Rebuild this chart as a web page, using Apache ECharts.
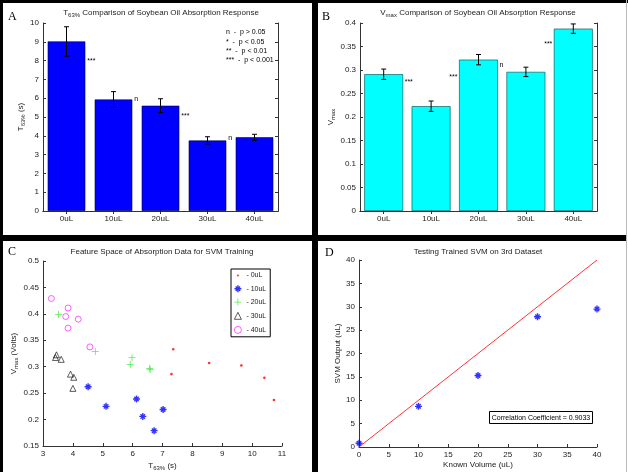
<!DOCTYPE html>
<html><head><meta charset="utf-8">
<script src="https://cdn.jsdelivr.net/npm/echarts@6/dist/echarts.min.js"></script>
<style>html,body{margin:0;padding:0;background:#fff}#c{width:628px;height:472px}</style>
</head><body><div id="c"></div>
<script>
// ---------- DATA ----------
const categories = ['0uL', '10uL', '20uL', '30uL', '40uL'];
const t63Mean = [9.02, 5.93, 5.6, 3.75, 3.92];
const t63Err  = [0.78, 0.42, 0.37, 0.2, 0.16];
const vmaxMean = [0.291, 0.223, 0.322, 0.296, 0.388];
const vmaxErr  = [0.011, 0.011, 0.011, 0.01, 0.01];
// significance annotations: category index, value, text, side (1 right of bar, -1 left)
const sigACat = [0, 1, 2, 3];
const sigAVal = [8.0, 5.95, 5.05, 3.9];
const sigAText = ['***', 'n', '***', 'n'];
const sigASide = [1, 1, 1, 1];
const sigBCat = [0, 2, 2, 4];
const sigBVal = [0.274, 0.285, 0.31, 0.355];
const sigBText = ['***', '***', 'n', '***'];
const sigBSide = [1, -1, 1, -1];
const pLegend = ['n  -  p > 0.05', '*  -  p < 0.05', '**  -  p < 0.01', '***  -  p < 0.001'];
// panel C feature space
const c0x = [7.36, 7.30, 8.56, 9.64, 10.41, 10.73];
const c0y = [0.333, 0.286, 0.307, 0.3025, 0.279, 0.237];
const c10x = [4.51, 5.11, 6.13, 6.34, 6.72, 7.02];
const c10y = [0.262, 0.225, 0.239, 0.206, 0.179, 0.219];
const c20x = [3.52, 4.75, 5.98, 5.92, 6.57, 6.59];
const c20y = [0.399, 0.329, 0.317, 0.304, 0.297, 0.2945];
const c30x = [3.45, 3.42, 3.61, 3.92, 4.03, 4.0];
const c30y = [0.3225, 0.3175, 0.314, 0.286, 0.28, 0.259];
const c40x = [3.28, 3.84, 3.76, 4.18, 3.84, 4.57];
const c40y = [0.429, 0.411, 0.395, 0.390, 0.373, 0.3375];
// panel D
const knownVol = [0, 10, 20, 30, 40];
const svmOut = [0.8, 8.7, 15.3, 27.85, 29.5];
const fitX = [0, 40];
const fitY = [0, 40];
const corrText = 'Correlation Coefficient = 0.9033';

// ---------- STYLE ----------
const FONT = "'Liberation Sans', Arial, sans-serif";
const TXT = '#222';
const AX = '#333';
const ASTER = 'path://M0,4H10V6H0Z M4,0H6V10H4Z M1.1,2.5L2.5,1.1L8.9,7.5L7.5,8.9Z M7.5,1.1L8.9,2.5L2.5,8.9L1.1,7.5Z';
const PLUS = 'path://M0,4.45H10V5.55H0Z M4.45,0H5.55V10H4.45Z';
const DOT = 'path://M0,0L0.01,0L0.01,0.01Z M10,10L9.99,10L9.99,9.99Z M5,3.5L6.1,3.9L6.5,5L6.1,6.1L5,6.5L3.9,6.1L3.5,5L3.9,3.9Z';

const zip = (a, b) => a.map((v, i) => [v, b[i]]);
const rich = {
  n: {fontSize: 8, fontFamily: FONT, color: TXT, fontWeight: 'normal'},
  s: {fontSize: 6, fontFamily: FONT, color: TXT, fontWeight: 'normal', padding: [5, 0, 0, 0]}
};
const tickLbl = {fontSize: 8, fontFamily: FONT, color: TXT};

function catAxis(grid, pos, labels) {
  return {type: 'category', gridIndex: grid, position: pos, data: categories,
    axisLine: {show: true, lineStyle: {color: AX, width: 1}},
    axisTick: {show: true, inside: true, alignWithLabel: true, length: 3, lineStyle: {color: AX}},
    axisLabel: Object.assign({show: labels, margin: 4}, tickLbl),
    splitLine: {show: false}};
}
function valAxis(grid, pos, min, max, interval, labels, extra) {
  return Object.assign({type: 'value', gridIndex: grid, position: pos, min, max, interval,
    axisLine: {show: true, lineStyle: {color: AX, width: 1}},
    axisTick: {show: true, inside: true, length: 3, lineStyle: {color: AX}},
    axisLabel: Object.assign({show: labels, margin: 4}, tickLbl),
    splitLine: {show: false}}, extra || {});
}
function errItem(params, api) {
  const x = api.value(0), m = api.value(1), e = api.value(2);
  const hi = api.coord([x, m + e]), lo = api.coord([x, m - e]);
  const cap = 2.5, st = {stroke: '#000', lineWidth: 1};
  return {type: 'group', children: [
    {type: 'line', shape: {x1: hi[0], y1: hi[1], x2: lo[0], y2: lo[1]}, style: st},
    {type: 'line', shape: {x1: hi[0] - cap, y1: hi[1], x2: hi[0] + cap, y2: hi[1]}, style: st},
    {type: 'line', shape: {x1: lo[0] - cap, y1: lo[1], x2: lo[0] + cap, y2: lo[1]}, style: st}
  ]};
}
function sigItem(texts, sides) {
  return function (params, api) {
    const i = params.dataIndex;
    const p = api.coord([api.value(0), api.value(1)]);
    const half = api.size([1, 0])[0] * 0.4;
    const s = sides[i];
    return {type: 'text', x: p[0] + s * (half + 2), y: p[1],
      style: {text: texts[i], fill: '#000', font: '7px ' + FONT,
        textAlign: s > 0 ? 'left' : 'right', textVerticalAlign: 'middle'}};
  };
}

const grids = [
  {left: 43, top: 23, width: 235, height: 188},
  {left: 360, top: 23, width: 237, height: 188},
  {left: 43, top: 261, width: 239, height: 186},
  {left: 359, top: 260, width: 238, height: 187}
];
const titleStyle = {rich, fontWeight: 'normal'};
const thinBorder = {borderWidth: 0.8};

const option = {
  animation: false,
  backgroundColor: '#fff',
  grid: grids.map(g => Object.assign({show: false, containLabel: false}, g)),
  title: [
    {text: '{n|T}{s|63%}{n| Comparison of Soybean Oil Absorption Response}', left: 161, top: 7, textAlign: 'center', padding: 0, textStyle: titleStyle},
    {text: '{n|V}{s|max}{n| Comparison of Soybean Oil Absorption Response}', left: 478, top: 7, textAlign: 'center', padding: 0, textStyle: titleStyle},
    {text: '{n|Feature Space of Absorption Data for SVM Training}', left: 162, top: 248, textAlign: 'center', padding: 0, textStyle: titleStyle},
    {text: '{n|Testing Trained SVM on 3rd Dataset}', left: 478, top: 248, textAlign: 'center', padding: 0, textStyle: titleStyle}
  ],
  legend: {
    left: 231, top: 269, orient: 'vertical',
    data: categories.map((c, i) => i >= 3 ? {name: c, itemStyle: thinBorder} : {name: c}),
    itemWidth: 7, itemHeight: 7, itemGap: 6.3, padding: [3, 4, 3, 3],
    borderColor: '#000', borderWidth: 1, backgroundColor: '#fff',
    formatter: n => '- ' + n,
    textStyle: {fontSize: 7, fontFamily: FONT, color: TXT}
  },
  xAxis: [
    catAxis(0, 'bottom', true),
    catAxis(0, 'top', false),
    catAxis(1, 'bottom', true),
    catAxis(1, 'top', false),
    valAxis(2, 'bottom', 3, 11, 1, true, {name: '{n|T}{s|63%}{n| (s)}', nameLocation: 'middle', nameGap: 14, nameTextStyle: {rich}}),
    valAxis(3, 'bottom', 0, 40, 5, true, {name: '{n|Known Volume (uL)}', nameLocation: 'middle', nameGap: 14, nameTextStyle: {rich}})
  ],
  yAxis: [
    valAxis(0, 'left', 0, 10, 1, true, {name: '{n|T}{s|63%}{n| (s)}', nameLocation: 'middle', nameGap: 17, nameTextStyle: {rich}}),
    valAxis(0, 'right', 0, 10, 1, false),
    valAxis(1, 'left', 0, 0.4, 0.05, true, {name: '{n|V}{s|max}', nameLocation: 'middle', nameGap: 18, nameTextStyle: {rich}}),
    valAxis(1, 'right', 0, 0.4, 0.05, false),
    valAxis(2, 'left', 0.15, 0.5, 0.05, true, {name: '{n|V}{s|max}{n| (Volts)}', nameLocation: 'middle', nameGap: 21, nameTextStyle: {rich}}),
    valAxis(3, 'left', 0, 40, 5, true, {name: '{n|SVM Output (uL)}', nameLocation: 'middle', nameGap: 8, nameTextStyle: {rich}})
  ],
  graphic: [
    {type: 'rect', shape: {x: 0, y: 0, width: 628, height: 3}, style: {fill: '#000'}, z: 100},
    {type: 'rect', shape: {x: 0, y: 0, width: 3, height: 472}, style: {fill: '#000'}, z: 100},
    {type: 'rect', shape: {x: 312, y: 0, width: 6, height: 472}, style: {fill: '#000'}, z: 100},
    {type: 'rect', shape: {x: 0, y: 235, width: 626, height: 6}, style: {fill: '#000'}, z: 100},
    {type: 'line', shape: {x1: 626.5, y1: 0, x2: 626.5, y2: 472}, style: {stroke: '#bbb', lineWidth: 1}, z: 100},
    {type: 'text', x: 8, y: 11, style: {text: 'A', font: '12px "Liberation Serif", serif', fill: '#000'}},
    {type: 'text', x: 322, y: 11, style: {text: 'B', font: '12px "Liberation Serif", serif', fill: '#000'}},
    {type: 'text', x: 8, y: 246, style: {text: 'C', font: '12px "Liberation Serif", serif', fill: '#000'}},
    {type: 'text', x: 325, y: 247, style: {text: 'D', font: '12px "Liberation Serif", serif', fill: '#000'}},
    ...pLegend.map((t, i) => ({type: 'text', x: 226, y: 29 + i * 9.3,
      style: {text: t, font: '7px ' + FONT, fill: '#000'}})),
    {type: 'group', x: 489, y: 411, children: [
      {type: 'rect', shape: {x: 0.5, y: 0.5, width: 103, height: 12}, style: {fill: '#fff', stroke: '#000', lineWidth: 1}},
      {type: 'text', x: 52, y: 7, style: {text: corrText, font: '7px ' + FONT, fill: '#000', textAlign: 'center', textVerticalAlign: 'middle'}}
    ]}
  ],
  series: [
    {type: 'bar', xAxisIndex: 0, yAxisIndex: 0, data: t63Mean, barWidth: '80%',
      itemStyle: {color: '#0000ff', borderColor: '#000033', borderWidth: 0.6}},
    {type: 'custom', xAxisIndex: 0, yAxisIndex: 0, renderItem: errItem,
      data: t63Mean.map((m, i) => [i, m, t63Err[i]]), z: 5},
    {type: 'custom', xAxisIndex: 0, yAxisIndex: 0, renderItem: sigItem(sigAText, sigASide),
      data: sigACat.map((c, i) => [c, sigAVal[i]]), z: 5},
    {type: 'bar', xAxisIndex: 2, yAxisIndex: 2, data: vmaxMean, barWidth: '82%',
      itemStyle: {color: '#00ffff', borderColor: '#004444', borderWidth: 0.6}},
    {type: 'custom', xAxisIndex: 2, yAxisIndex: 2, renderItem: errItem,
      data: vmaxMean.map((m, i) => [i, m, vmaxErr[i]]), z: 5},
    {type: 'custom', xAxisIndex: 2, yAxisIndex: 2, renderItem: sigItem(sigBText, sigBSide),
      data: sigBCat.map((c, i) => [c, sigBVal[i]]), z: 5},
    {name: '0uL', type: 'scatter', xAxisIndex: 4, yAxisIndex: 4, data: zip(c0x, c0y),
      symbol: DOT, symbolSize: 9, itemStyle: {color: '#ff0000'}},
    {name: '10uL', type: 'scatter', xAxisIndex: 4, yAxisIndex: 4, data: zip(c10x, c10y),
      symbol: ASTER, symbolSize: 7, itemStyle: {color: '#0000ff'}},
    {name: '20uL', type: 'scatter', xAxisIndex: 4, yAxisIndex: 4, data: zip(c20x, c20y),
      symbol: PLUS, symbolSize: 7, itemStyle: {color: '#22ee22'}},
    {name: '30uL', type: 'scatter', xAxisIndex: 4, yAxisIndex: 4, data: zip(c30x, c30y),
      symbol: 'triangle', symbolSize: 6,
      itemStyle: {color: 'rgba(255,255,255,0)', borderColor: '#000', borderWidth: 0.8}},
    {name: '40uL', type: 'scatter', xAxisIndex: 4, yAxisIndex: 4, data: zip(c40x, c40y),
      symbol: 'circle', symbolSize: 6,
      itemStyle: {color: 'rgba(255,255,255,0)', borderColor: '#ff00ff', borderWidth: 0.8}},
    {name: 'fit', type: 'line', xAxisIndex: 5, yAxisIndex: 5, data: zip(fitX, fitY),
      symbol: 'none', lineStyle: {color: '#ff3333', width: 1}},
    {name: 'svm', type: 'scatter', xAxisIndex: 5, yAxisIndex: 5, data: zip(knownVol, svmOut),
      symbol: ASTER, symbolSize: 7, itemStyle: {color: '#0000ff'}, z: 3}
  ]
};
const chart = echarts.init(document.getElementById('c'), null, {renderer: 'canvas'});
chart.setOption(option);
</script></body></html>
